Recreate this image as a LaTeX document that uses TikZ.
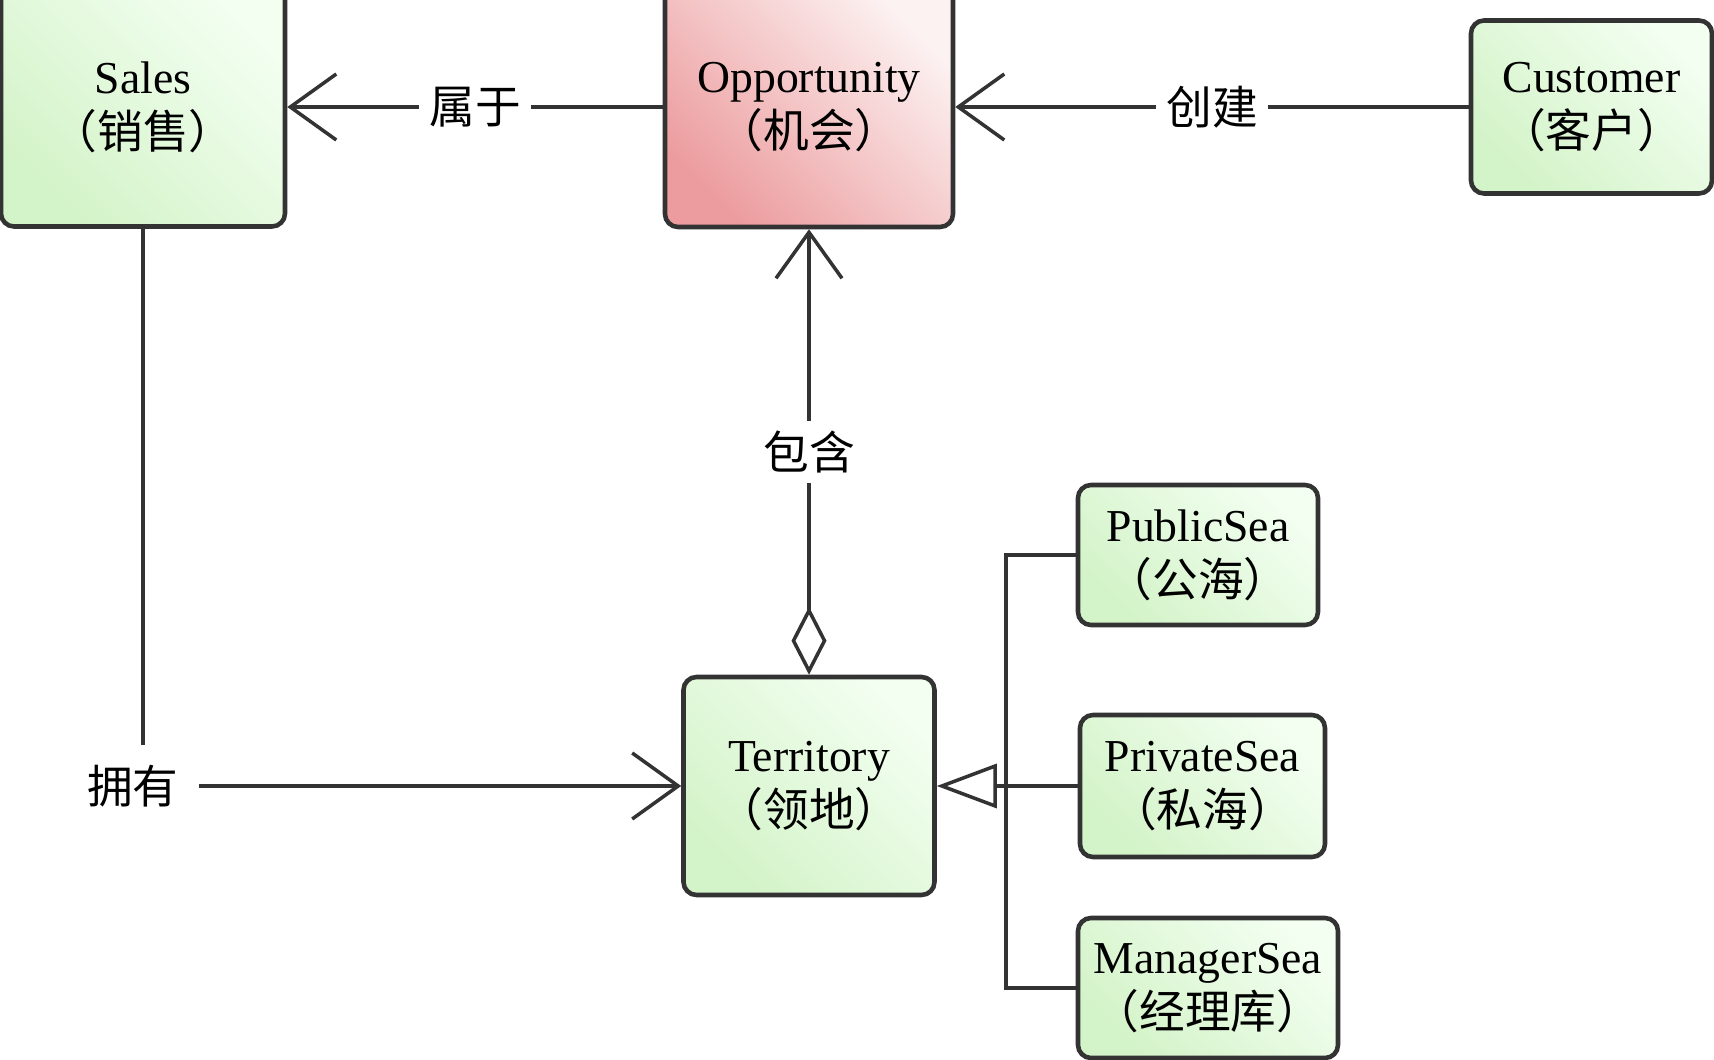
\documentclass[tikz,border=0pt]{standalone}
\usepackage{fontspec}
\setmainfont{Liberation Serif}
\newfontfamily\cjk{Noto Sans CJK SC}
\usetikzlibrary{arrows.meta}
\definecolor{lineGray}{HTML}{333333}
\definecolor{greenLo}{HTML}{D3F3C8}
\definecolor{greenHi}{HTML}{F3FFF1}
\definecolor{redLo}{HTML}{EC9C9E}
\definecolor{redHi}{HTML}{FDF2F2}
\begin{document}
\begin{tikzpicture}[font=\fontsize{13pt}{15.6pt}\selectfont,
        entity/.style={draw=lineGray,line width=1.3pt,rounded corners=1.3mm,align=center,inner sep=0pt,
            top color=greenHi,bottom color=greenLo,shading angle=-45},
        hot/.style={top color=redHi,bottom color=redLo,shading angle=-45},
        link/.style={draw=lineGray,line width=1pt},
        relname/.style={fill=white,inner sep=1mm,font=\fontsize{13pt}{15.6pt}\cjk},
        barb/.style={-{Straight Barb[length=4.6mm,width=6.6mm]}},
        whole/.style={{Diamond[fill=white,length=6.8mm,width=3.5mm]}-{Straight Barb[length=4.6mm,width=6.6mm]}},
        isa/.style={-{Triangle[fill=white,length=6mm,width=4.4mm]}}]
        \useasboundingbox (0,0) rectangle (17.14,-10.60);
        \node[entity,minimum width=2.84cm,minimum height=2.39cm] (sales) at (1.43,-1.07) {Sales\\{\cjk （销售）}};
        \node[entity,hot,minimum width=2.88cm,minimum height=2.40cm] (opp) at (8.09,-1.07) {Opportunity\\{\cjk （机会）}};
        \node[entity,minimum width=2.41cm,minimum height=1.73cm] (cust) at (15.915,-1.07) {Customer\\{\cjk （客户）}};
        \node[entity,minimum width=2.51cm,minimum height=2.18cm] (terr) at (8.09,-7.86) {Territory\\{\cjk （领地）}};
        \node[entity,minimum width=2.40cm,minimum height=1.40cm] (pub) at (11.98,-5.55) {PublicSea\\{\cjk （公海）}};
        \node[entity,minimum width=2.45cm,minimum height=1.42cm] (priv) at (12.025,-7.86) {PrivateSea\\{\cjk （私海）}};
        \node[entity,minimum width=2.60cm,minimum height=1.40cm] (mgr) at (12.08,-9.88) {ManagerSea\\{\cjk （经理库）}};
        \coordinate (bus) at (10.06,-7.86);
        \draw[link,barb] (opp.west) -- node[relname] {属于} (sales.east);
        \draw[link,barb] (cust.west) -- node[relname] {创建} (opp.east);
        \draw[link,whole] (terr.north) -- node[relname] {包含} (opp.south);
        \draw[link,barb] (sales.south) |- node[relname,inner sep=2mm,xshift=-1mm] {拥有} (terr.west);
        \draw[link,isa] (priv.west) -- (terr.east);
        \draw[link] (pub.west) -| (bus) |- (mgr.west);
\end{tikzpicture}
\end{document}
